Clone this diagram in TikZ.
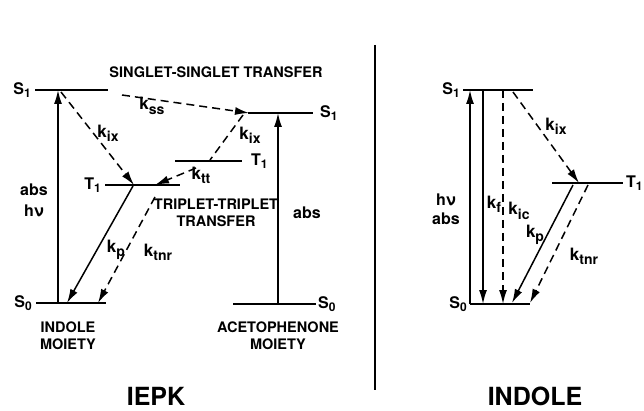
\documentclass[tikz,border=0pt]{standalone}
\usepackage{fontspec}
\setmainfont{TeX Gyre Heros}
\usetikzlibrary{arrows.meta, positioning}

% rate constant k_x and level name S_1 with lowered subscripts
\newcommand{\rate}[1]{{\fontsize{17}{17}\selectfont k}\raisebox{-0.55ex}{\fontsize{14}{14}\selectfont #1}}
\newcommand{\lev}[2]{{\fontsize{16}{16}\selectfont #1}\raisebox{-0.45ex}{\fontsize{12}{12}\selectfont #2}}

\tikzset{
    level/.style={line width=1.8pt},
    rad/.style={line width=1.5pt, -{Latex[length=14pt,width=8pt]}},
    nonrad/.style={rad, dash pattern=on 8pt off 5pt},
    lbl/.style={font=\bfseries\fontsize{14.5}{17}\selectfont, inner sep=1pt, align=center},
    big/.style={font=\bfseries\fontsize{25}{28}\selectfont, inner sep=0pt}
}

\begin{document}
\begin{tikzpicture}[x=1pt, y=-1pt]
    \useasboundingbox (0,0) rectangle (644,411);

    % IEPK: indole moiety levels
    \coordinate (iS1a) at (35,90);   \coordinate (iS1b) at (108,90);
    \coordinate (iT1a) at (105,185); \coordinate (iT1b) at (180,185);
    \coordinate (iS0a) at (36,303);  \coordinate (iS0b) at (106,303);
    \draw[level] (iS1a) -- (iS1b);
    \draw[level] (iT1a) -- (iT1b);
    \draw[level] (iS0a) -- (iS0b);
    \node[lbl, left=3pt of iS1a] (iS1l) {\lev{S}{1}};
    \node[lbl, left=3pt of iT1a] (iT1l) {\lev{T}{1}};
    \node[lbl, left=3pt of iS0a] (iS0l) {\lev{S}{0}};

    % IEPK: acetophenone moiety levels
    \coordinate (aS1a) at (248,113); \coordinate (aS1b) at (313,113);
    \coordinate (aT1a) at (175,161); \coordinate (aT1b) at (242,161);
    \coordinate (aS0a) at (233,304); \coordinate (aS0b) at (316,304);
    \draw[level] (aS1a) -- (aS1b);
    \draw[level] (aT1a) -- (aT1b);
    \draw[level] (aS0a) -- (aS0b);
    \node[lbl, right=6pt of aS1b] (aS1l) {\lev{S}{1}};
    \node[lbl, right=8pt of aT1b] (aT1l) {\lev{T}{1}};
    \node[lbl, right=1pt of aS0b] (aS0l) {\lev{S}{0}};

    % IEPK transitions
    \coordinate (iabs0) at (58,303);  \coordinate (iabs1) at (58,90);
    \coordinate (ix0) at (61,92);     \coordinate (ix1) at (134,185);
    \coordinate (ss0) at (122,95);    \coordinate (ss1) at (249,113);
    \coordinate (ax0) at (243,115);   \coordinate (ax1) at (210,160);
    \coordinate (tt0) at (196,168);   \coordinate (tt1) at (155,185);
    \coordinate (ip0) at (133,186);   \coordinate (ip1) at (67,303);
    \coordinate (in0) at (155,197);   \coordinate (in1) at (98,303);
    \coordinate (aabs0) at (278,304); \coordinate (aabs1) at (278,113);
    \draw[rad] (iabs0) -- (iabs1);
    \draw[nonrad] (ix0) -- (ix1);
    \draw[nonrad] (ss0) -- (ss1);
    \draw[nonrad, -] (ax0) -- (ax1);
    \draw[nonrad] (tt0) -- (tt1);
    \draw[rad] (ip0) -- (ip1);
    \draw[nonrad] (in0) -- (in1);
    \draw[rad] (aabs0) -- (aabs1);

    \node[lbl, font=\bfseries\fontsize{16}{21}\selectfont] (iabsl) at (34,200) {abs\\hν};
    \node[lbl] (ixl) at (108,133) {\rate{ix}};
    \node[lbl] (ssl) at (152,106) {\rate{ss}};
    \node[lbl] (axl) at (250,135) {\rate{ix}};
    \node[lbl] (ttl) at (201,175) {\rate{tt}};
    \node[lbl] (ipl) at (116,250) {\rate{p}};
    \node[lbl] (inl) at (158,252) {\rate{tnr}};
    \node[lbl, font=\bfseries\fontsize{16}{21}\selectfont] (aabsl) at (307,213) {abs};
    \node[lbl] (sstl) at (216,72) {SINGLET-SINGLET TRANSFER};
    \node[lbl] (ttll) at (216,213) {TRIPLET-TRIPLET\\TRANSFER};
    \node[lbl] (indl) at (68,336) {INDOLE\\MOIETY};
    \node[lbl] (acel) at (278,336) {ACETOPHENONE\\MOIETY};
    \node[big] (iepk) at (156,396) {IEPK};

    % divider
    \coordinate (div0) at (375,45); \coordinate (div1) at (375,390);
    \draw[line width=1.6pt] (div0) -- (div1);

    % INDOLE levels
    \coordinate (nS1a) at (463,90);  \coordinate (nS1b) at (533,90);
    \coordinate (nT1a) at (552,183); \coordinate (nT1b) at (623,183);
    \coordinate (nS0a) at (470,304); \coordinate (nS0b) at (530,304);
    \draw[level] (nS1a) -- (nS1b);
    \draw[level] (nT1a) -- (nT1b);
    \draw[level] (nS0a) -- (nS0b);
    \node[lbl, left=2pt of nS1a] (nS1l) {\lev{S}{1}};
    \node[lbl, right=2pt of nT1b] (nT1l) {\lev{T}{1}};
    \node[lbl, left=2pt of nS0a] (nS0l) {\lev{S}{0}};

    % INDOLE transitions
    \coordinate (nabs0) at (470,304); \coordinate (nabs1) at (470,90);
    \coordinate (nf0) at (483,90);    \coordinate (nf1) at (483,304);
    \coordinate (nic0) at (503,90);   \coordinate (nic1) at (503,304);
    \coordinate (nx0) at (513,92);    \coordinate (nx1) at (579,183);
    \coordinate (np0) at (573,185);   \coordinate (np1) at (512,303);
    \coordinate (nn0) at (588,185);   \coordinate (nn1) at (530,303);
    \draw[rad] (nabs0) -- (nabs1);
    \draw[rad] (nf0) -- (nf1);
    \draw[nonrad] (nic0) -- (nic1);
    \draw[nonrad] (nx0) -- (nx1);
    \draw[rad] (np0) -- (np1);
    \draw[nonrad] (nn0) -- (nn1);

    \node[lbl, font=\bfseries\fontsize{16}{19}\selectfont] (nabsl) at (446,209) {hν\\abs};
    \node[lbl] (nfl) at (494,204) {\rate{f}};
    \node[lbl] (nicl) at (519,211) {\rate{ic}};
    \node[lbl] (nxl) at (556,126) {\rate{ix}};
    \node[lbl] (npl) at (535,235) {\rate{p}};
    \node[lbl] (nnl) at (584,256) {\rate{tnr}};
    \node[big] (indole) at (535,396) {INDOLE};
\end{tikzpicture}
\end{document}
